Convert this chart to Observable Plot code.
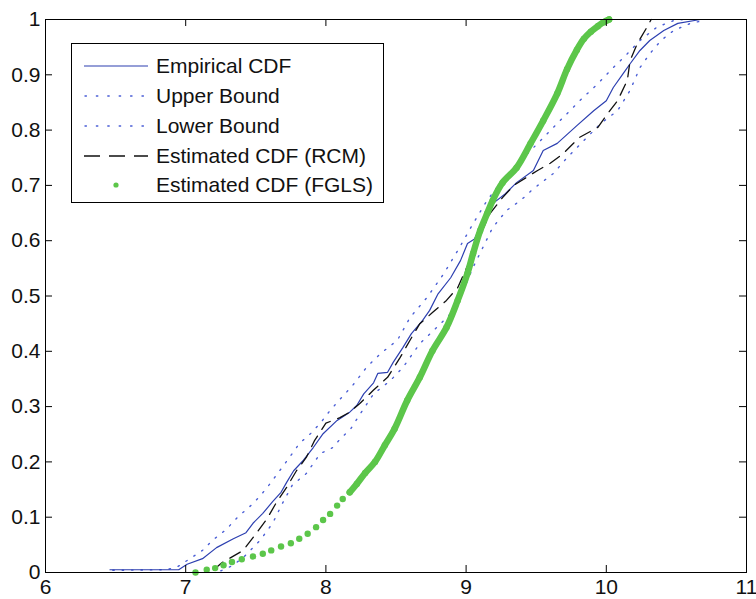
<!DOCTYPE html>
<html>
<head>
<meta charset="utf-8">
<script src="https://cdn.jsdelivr.net/npm/d3@7"></script>
<script src="https://cdn.jsdelivr.net/npm/@observablehq/plot@0.6"></script>
<style>
  html, body { margin: 0; padding: 0; background: #fff; }
  #wrap { position: relative; width: 756px; height: 599px; font-family: "Liberation Sans", Arial, sans-serif; }
  #legend { position: absolute; left: 71px; top: 43px; width: 311px; height: 158px; border: 1px solid #000; background: #fff; }
  .row { position: absolute; left: 0; height: 30px; width: 100%; }
  .row svg { position: absolute; left: 12px; top: 0; }
  .row span { position: absolute; left: 84px; top: 2px; font-size: 21px; line-height: 26px; color: #111; white-space: nowrap; }
</style>
</head>
<body>
<div id="wrap"></div>
<script>
// ---- data ----
const xTicks = [6, 7, 8, 9, 10, 11];
const yTicks = [0, 0.1, 0.2, 0.3, 0.4, 0.5, 0.6, 0.7, 0.8, 0.9, 1];

const seriesNames = ["Empirical CDF", "Upper Bound", "Lower Bound", "Estimated CDF (RCM)", "Estimated CDF (FGLS)"];

const empX = [6.46,6.95,7.01,7.12,7.22,7.34,7.43,7.48,7.55,7.62,7.68,7.72,7.77,7.84,7.91,7.98,8.08,8.17,8.22,8.27,8.34,8.37,8.44,8.48,8.55,8.61,8.69,8.74,8.8,8.89,8.96,9.01,9.06,9.12,9.19,9.28,9.36,9.48,9.55,9.65,9.79,9.91,10.0,10.05,10.12,10.17,10.24,10.31,10.41,10.51,10.67,10.72];
const empY = [0.005,0.005,0.015,0.025,0.045,0.061,0.072,0.089,0.107,0.128,0.145,0.163,0.184,0.203,0.226,0.251,0.275,0.29,0.302,0.323,0.343,0.36,0.362,0.38,0.407,0.432,0.456,0.474,0.504,0.533,0.564,0.595,0.603,0.637,0.667,0.685,0.705,0.727,0.763,0.776,0.808,0.835,0.853,0.877,0.902,0.92,0.944,0.962,0.98,0.993,1.0,1.0];

const upX = [6.48,6.86,6.94,7.03,7.12,7.19,7.29,7.37,7.46,7.53,7.6,7.67,7.74,7.81,7.89,7.96,8.03,8.1,8.19,8.29,8.39,8.51,8.6,8.72,8.84,8.94,9.05,9.15,9.24,9.3,9.39,9.53,9.67,9.81,9.94,10.05,10.15,10.24,10.36,10.48,10.55];
const upY = [0.004,0.005,0.01,0.025,0.04,0.058,0.078,0.1,0.12,0.138,0.16,0.184,0.208,0.233,0.251,0.27,0.293,0.313,0.338,0.371,0.396,0.42,0.461,0.497,0.54,0.582,0.631,0.673,0.703,0.72,0.745,0.781,0.817,0.853,0.884,0.913,0.938,0.962,0.986,0.998,1.0];

const loX = [7.25,7.33,7.41,7.53,7.62,7.69,7.76,7.86,7.91,7.96,8.05,8.11,8.17,8.24,8.34,8.46,8.55,8.67,8.79,8.89,8.98,9.05,9.12,9.19,9.29,9.39,9.48,9.62,9.72,9.84,9.96,10.08,10.17,10.24,10.31,10.39,10.48,10.6,10.69];
const loY = [0.003,0.012,0.027,0.058,0.089,0.125,0.158,0.179,0.197,0.215,0.226,0.244,0.257,0.285,0.323,0.347,0.371,0.414,0.443,0.468,0.51,0.552,0.588,0.624,0.655,0.673,0.694,0.721,0.75,0.781,0.812,0.835,0.872,0.913,0.938,0.962,0.98,0.993,0.998];

const rcmX = [7.2,7.26,7.41,7.48,7.58,7.65,7.72,7.79,7.86,7.92,8.0,8.1,8.17,8.24,8.34,8.44,8.53,8.6,8.67,8.76,8.86,8.94,9.02,9.1,9.17,9.26,9.34,9.51,9.6,9.69,9.81,9.94,10.01,10.08,10.15,10.17,10.22,10.29,10.32];
const rcmY = [0.005,0.018,0.04,0.063,0.097,0.128,0.154,0.184,0.208,0.239,0.27,0.28,0.29,0.305,0.33,0.353,0.389,0.42,0.45,0.47,0.492,0.515,0.56,0.61,0.649,0.678,0.7,0.727,0.74,0.757,0.787,0.805,0.83,0.853,0.89,0.926,0.956,0.986,1.0];

const fglsX = [7.07,7.15,7.21,7.27,7.33,7.40,7.48,7.55,7.61,7.68,7.75,7.81,7.87,7.93,7.98,8.03,8.08,8.12,8.17,8.22,8.28,8.35,8.42,8.49,8.58,8.67,8.76,8.86,8.94,9.01,9.05,9.1,9.15,9.19,9.26,9.36,9.46,9.55,9.65,9.72,9.79,9.84,9.89,9.94,9.98,10.02];
const fglsY = [0.0,0.005,0.008,0.013,0.019,0.024,0.029,0.034,0.04,0.047,0.053,0.061,0.07,0.082,0.095,0.106,0.121,0.133,0.145,0.16,0.18,0.2,0.23,0.26,0.311,0.353,0.401,0.443,0.492,0.541,0.577,0.618,0.649,0.673,0.705,0.732,0.776,0.817,0.866,0.91,0.945,0.965,0.978,0.988,0.995,1.0];

// ---- build tables ----
const toRows = (xs, ys) => xs.map((x, i) => ({x, y: ys[i]}));
const emp = toRows(empX, empY);
const up = toRows(upX, upY);
const lo = toRows(loX, loY);
const rcm = toRows(rcmX, rcmY);
const fgls = toRows(fglsX, fglsY);

const W = 756, H = 599, mL = 45, mR = 10, mT = 19, mB = 27;
const plotW = W - mL - mR, plotH = H - mT - mB, tickLen = 7;

const BLUE = "#2c3fb0", DOT = "#4a5ed6", GREEN = "#5cc64a";

const chart = Plot.plot({
  width: W, height: H,
  marginLeft: mL, marginRight: mR, marginTop: mT, marginBottom: mB,
  x: {domain: [6, 11]},
  y: {domain: [0, 1]},
  style: {fontFamily: "'Liberation Sans', Arial, sans-serif", fontSize: "21px", background: "white", color: "#111", overflow: "visible"},
  marks: [
    Plot.line(up, {x: "x", y: "y", stroke: DOT, strokeWidth: 1.4, strokeDasharray: "1.4,8", strokeLinecap: "round"}),
    Plot.line(lo, {x: "x", y: "y", stroke: DOT, strokeWidth: 1.4, strokeDasharray: "1.4,8", strokeLinecap: "round"}),
    Plot.line(emp, {x: "x", y: "y", stroke: BLUE, strokeWidth: 1.2}),
    Plot.line(rcm, {x: "x", y: "y", stroke: "#111", strokeWidth: 1.3, strokeDasharray: "12,8"}),
    Plot.line(fgls.filter(d => d.y >= 0.14), {x: "x", y: "y", curve: "catmull-rom", stroke: GREEN, strokeWidth: 6.5, strokeLinecap: "round", strokeLinejoin: "round"}),
    Plot.dot(fgls, {x: "x", y: "y", r: 3.2, fill: GREEN, stroke: "none"}),
    Plot.frame({stroke: "#000", strokeWidth: 1}),
    Plot.tickX(xTicks, {x: d => d, insetTop: plotH - tickLen, stroke: "#000"}),
    Plot.tickX(xTicks, {x: d => d, insetBottom: plotH - tickLen, stroke: "#000"}),
    Plot.tickY(yTicks, {y: d => d, insetRight: plotW - tickLen, stroke: "#000"}),
    Plot.tickY(yTicks, {y: d => d, insetLeft: plotW - tickLen, stroke: "#000"}),
    Plot.axisX(xTicks, {tickSize: 0, tickPadding: 7, label: null, fontSize: 21, tickFormat: d => String(d)}),
    Plot.axisY(yTicks, {tickSize: 0, tickPadding: 5, label: null, fontSize: 21, tickFormat: d => String(d)})
  ]
});

const wrap = document.getElementById("wrap");
wrap.appendChild(chart);

// ---- legend ----
const legend = document.createElement("div");
legend.id = "legend";
const rowTops = [7, 37, 67, 97, 126];
const samples = [
  `<line x1="0" y1="15" x2="64" y2="15" stroke="${BLUE}" stroke-width="1.2"/>`,
  `<line x1="1" y1="15" x2="64" y2="15" stroke="${DOT}" stroke-width="1.4" stroke-dasharray="1.4,10" stroke-linecap="round"/>`,
  `<line x1="1" y1="15" x2="64" y2="15" stroke="${DOT}" stroke-width="1.4" stroke-dasharray="1.4,10" stroke-linecap="round"/>`,
  `<line x1="0" y1="15" x2="64" y2="15" stroke="#111" stroke-width="1.3" stroke-dasharray="16,9"/>`,
  `<circle cx="32" cy="15" r="2.6" fill="${GREEN}"/>`
];
seriesNames.forEach((name, i) => {
  const row = document.createElement("div");
  row.className = "row";
  row.style.top = rowTops[i] + "px";
  row.innerHTML = `<svg width="66" height="30">${samples[i]}</svg><span>${name}</span>`;
  legend.appendChild(row);
});
wrap.appendChild(legend);
</script>
</body>
</html>
